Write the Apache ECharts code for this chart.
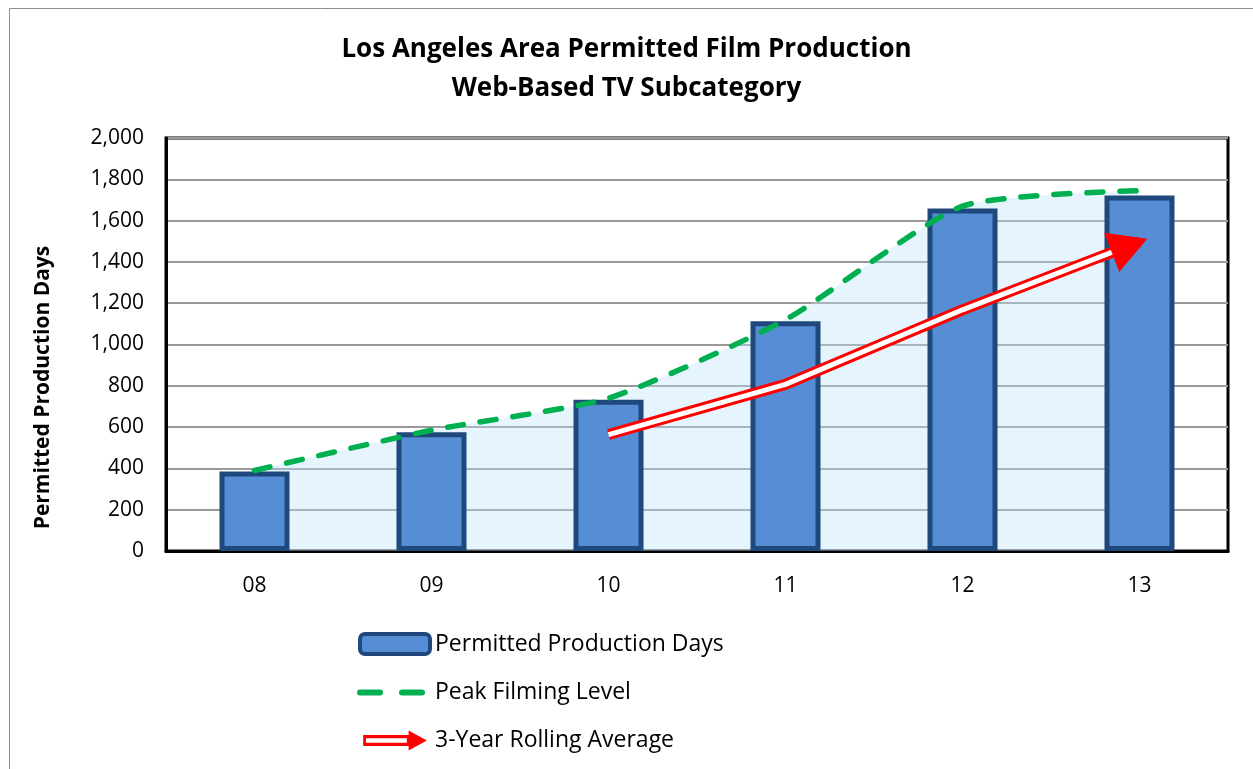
<!DOCTYPE html>
<html>
<head>
<meta charset="utf-8">
<script src="https://cdn.jsdelivr.net/npm/echarts@6/dist/echarts.min.js"></script>
<style>
  html, body { margin: 0; padding: 0; background: #fff; }
  #main { width: 1253px; height: 769px; }
</style>
</head>
<body>
<div id="main"></div>
<script>
// years along the x axis
const years = ["08", "09", "10", "11", "12", "13"];
// bar values
const productionDays = [385, 575, 732, 1113, 1658, 1722];
// smoothed envelope (green dashed)
const peakLevel = [390, 585, 740, 1120, 1670, 1745];
// 3-year rolling average (red double arrow), starts at 10
const rollingAvg = [null, null, 564, 807, 1168, 1498];
const yTicks = { min: 0, max: 2000, interval: 200 };

const font = "'Open Sans', 'Liberation Sans', sans-serif";

let myChart = echarts.init(document.getElementById("main"));

// only the last point carries the arrow head, pushed forward so it hides the line end
const headData = rollingAvg.map((v, i) => {
  if (i === rollingAvg.length - 1) {
    return {
      value: v,
      symbol: "path://M0,0 L10,5 L0,10 Z",
      symbolSize: [38, 42],
      symbolRotate: 21,
      symbolOffset: [-10, 4],
    };
  }
  return { value: v, symbol: "none" };
});

myChart.setOption({
  animation: false,
  textStyle: { fontFamily: font },
  title: {
    text: "Los Angeles Area Permitted Film Production\nWeb-Based TV Subcategory",
    left: "center",
    top: 25,
    textStyle: {
      fontFamily: font,
      fontSize: 26,
      fontWeight: "bold",
      color: "#000",
      lineHeight: 39,
    },
  },
  legend: {
    orient: "vertical",
    left: 352,
    top: 627,
    itemWidth: 70,
    itemHeight: 20,
    itemGap: 25,
    textStyle: { fontSize: 23, color: "#000", fontFamily: font },
    data: [
      {
        name: "Permitted Production Days",
        icon: "roundRect",
        itemStyle: { borderWidth: 4, borderColor: "#1f497d" },
      },
      {
        name: "Peak Filming Level",
        itemStyle: { opacity: 0 },
        lineStyle: { type: [20, 22], width: 6, cap: "round", color: "#00b050" },
      },
      {
        name: "3-Year Rolling Average",
        icon: "path://M0,5 L50,5 L50,0 L70,11 L50,22 L50,17 L0,17 Z M3,8.5 L3,13.5 L48,13.5 L48,8.5 Z",
      },
    ],
  },
  grid: {
    left: 166,
    right: 25,
    top: 138,
    bottom: 218,
    show: true,
    borderColor: "#000",
    borderWidth: 3,
    containLabel: false,
  },
  xAxis: {
    type: "category",
    data: years,
    axisTick: { show: false },
    axisLine: { show: true, lineStyle: { color: "#000", width: 3 } },
    axisLabel: { fontSize: 21, color: "#000", margin: 25, fontFamily: font },
  },
  yAxis: {
    type: "value",
    min: yTicks.min,
    max: yTicks.max,
    interval: yTicks.interval,
    name: "Permitted Production Days",
    nameLocation: "middle",
    nameGap: 112,
    nameTextStyle: {
      fontSize: 21,
      fontWeight: "bold",
      color: "#000",
      fontFamily: font,
      padding: [0, 86, 0, 0],
    },
    axisLine: { show: true, lineStyle: { color: "#000", width: 3 } },
    axisTick: { show: false },
    splitLine: { lineStyle: { color: "#999", width: 2 } },
    axisLabel: {
      fontSize: 21,
      color: "#000",
      margin: 22,
      fontFamily: font,
      formatter: (v) => v.toLocaleString("en-US"),
    },
  },
  series: [
    {
      name: "peak area",
      type: "line",
      data: peakLevel,
      smooth: 0.2,
      symbol: "none",
      lineStyle: { width: 0 },
      areaStyle: { color: "rgba(190,226,250,0.55)" },
      z: 1,
      silent: true,
    },
    {
      name: "Permitted Production Days",
      type: "bar",
      data: productionDays,
      barWidth: 70,
      itemStyle: { color: "#558ed5", borderColor: "#1f497d", borderWidth: 5 },
      z: 2,
    },
    {
      name: "Peak Filming Level",
      type: "line",
      data: peakLevel,
      smooth: 0.2,
      symbol: "none",
      itemStyle: { color: "#00b050" },
      lineStyle: { color: "#00b050", width: 5.5, type: [16, 17], cap: "round" },
      z: 3,
    },
    {
      name: "3-Year Rolling Average",
      type: "line",
      data: rollingAvg,
      symbol: "none",
      itemStyle: { color: "#ff0000" },
      lineStyle: { color: "#ff0000", width: 11, cap: "butt", join: "round" },
      z: 4,
    },
    {
      name: "avg inner",
      type: "line",
      data: rollingAvg,
      symbol: "none",
      lineStyle: { color: "#ffffff", width: 5, cap: "butt", join: "round" },
      z: 5,
      silent: true,
    },
    {
      name: "avg head",
      type: "line",
      data: headData,
      itemStyle: { color: "#ff0000" },
      lineStyle: { width: 0, opacity: 0 },
      z: 6,
      silent: true,
    },
  ],
  graphic: [
    {
      type: "rect",
      shape: { x: 9.5, y: 8.5, width: 1250, height: 770 },
      style: { fill: "none", stroke: "#8c8c8c", lineWidth: 1 },
      silent: true,
    },
  ],
});
</script>
</body>
</html>
